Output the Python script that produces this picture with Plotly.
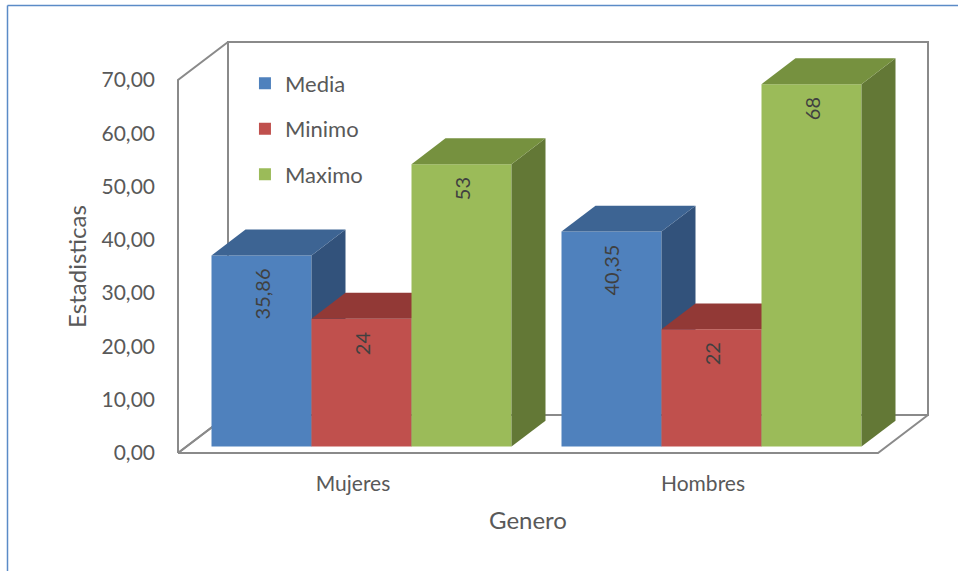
import plotly.graph_objects as go

# ---------------- data ----------------
categories = ["Mujeres", "Hombres"]
series_names = ["Media", "Minimo", "Maximo"]
media = [35.86, 40.35]
minimo = [24, 22]
maximo = [53, 68]
y_tick_values = [0, 10, 20, 30, 40, 50, 60, 70]
x_title = "Genero"
y_title = "Estadisticas"

series_values = [media, minimo, maximo]

# ---------------- style ----------------
front_colors = ["#4F81BD", "#C0504D", "#9BBB59"]
top_colors = ["#3D6493", "#923936", "#76913F"]
side_colors = ["#32527B", "#7B302E", "#637836"]
wall_color = "#8A8A8A"
text_color = "#595959"
label_color = "#404040"
FONT = "Lato"

W, H = 958, 571
PLOT_L, PLOT_R = 178, 878      # front edge of the floor (px)
PLOT_B, PLOT_T = 453, 80       # value 0 / value max on the front plane (px)
DEPTH_PX = (50, -38)           # full depth of the 3D box in px
YMAX = y_tick_values[-1]
ncat = len(categories)
px_per_cat = (PLOT_R - PLOT_L) / ncat
px_per_val = (PLOT_B - PLOT_T) / YMAX
DX = DEPTH_PX[0] / px_per_cat          # depth offset in x data units
DV = -DEPTH_PX[1] / px_per_val         # depth offset in y data units
Z0, Z1 = 0.17, 0.85                    # bar depth span (fraction of box depth)
GAP = 1 / 7
BAR_W = (1 - GAP) / len(series_names)
XMIN, XMAX = -0.5, ncat - 0.5


def x_at(px):
    return (px - PLOT_L) / px_per_cat + XMIN


def v_at(py):
    return (PLOT_B - py) / px_per_val


def P(x, v, z):
    return x + z * DX, v + z * DV


def poly(points):
    xs = [p[0] for p in points] + [points[0][0]]
    ys = [p[1] for p in points] + [points[0][1]]
    return xs, ys


fig = go.Figure()

# ---------------- walls & floor (base subplot) ----------------
walls = [
    [P(XMIN, 0, 0), P(XMIN, YMAX, 0), P(XMIN, YMAX, 1), P(XMIN, 0, 1)],
    [P(XMIN, 0, 1), P(XMIN, YMAX, 1), P(XMAX, YMAX, 1), P(XMAX, 0, 1)],
    [P(XMIN, 0, 0), P(XMAX, 0, 0), P(XMAX, 0, 1), P(XMIN, 0, 1)],
]
for wpts in walls:
    xs, ys = poly(wpts)
    fig.add_trace(go.Scatter(x=xs, y=ys, mode="lines",
                             line=dict(color=wall_color, width=2),
                             showlegend=False, hoverinfo="skip",
                             xaxis="x", yaxis="y"))

# ---------------- bars (one overlay subplot per series) ----------------
annotations = []
for k, (name, vals) in enumerate(zip(series_names, series_values)):
    xa = "x%d" % (k + 2)
    ya = "y%d" % (k + 2)
    offset = -1.5 * BAR_W + k * BAR_W
    fig.add_trace(go.Bar(
        x=[i + Z0 * DX for i in range(ncat)], y=vals,
        base=Z0 * DV, width=BAR_W, offset=offset,
        name=name, legendgroup=name,
        marker=dict(color=front_colors[k], line=dict(width=0)),
        xaxis=xa, yaxis=ya, hoverinfo="skip"))
    for i, v in enumerate(vals):
        xl = i + offset
        xr = xl + BAR_W
        top = [P(xl, v, Z0), P(xr, v, Z0), P(xr, v, Z1), P(xl, v, Z1)]
        side = [P(xr, 0, Z0), P(xr, v, Z0), P(xr, v, Z1), P(xr, 0, Z1)]
        for pts, col in ((side, side_colors[k]), (top, top_colors[k])):
            xs, ys = poly(pts)
            fig.add_trace(go.Scatter(x=xs, y=ys, mode="lines", fill="toself",
                                     fillcolor=col, line=dict(width=0, color=col),
                                     showlegend=False, hoverinfo="skip",
                                     xaxis=xa, yaxis=ya))
        cx, cy = P((xl + xr) / 2, v, Z0)
        annotations.append(dict(
            x=cx, y=cy, xref="x", yref="y", showarrow=False,
            text=f"{v:g}".replace(".", ","), textangle=-90,
            xanchor="center", yanchor="top", yshift=-11,
            font=dict(family=FONT, size=20, color=label_color)))

# invisible trace so the labelled axes are drawn
fig.add_trace(go.Scatter(x=[0], y=[0], mode="markers", marker=dict(opacity=0),
                         showlegend=False, hoverinfo="skip",
                         xaxis="x5", yaxis="y5"))

hidden = dict(visible=False, showgrid=False, zeroline=False, fixedrange=True,
              automargin=False)
xr_full = [x_at(0), x_at(W)]
yr_full = [v_at(H), v_at(0)]

layout = dict(
    width=W, height=H, autosize=False,
    margin=dict(l=0, r=0, t=0, b=0, pad=0, autoexpand=False),
    paper_bgcolor="white", plot_bgcolor="rgba(0,0,0,0)",
    separators=",.",
    barmode="overlay",
    showlegend=True,
    legend=dict(x=0.2557, y=0.8908, xanchor="left", yanchor="top",
                bgcolor="rgba(0,0,0,0)", tracegroupgap=14,
                font=dict(family=FONT, size=22, color=text_color)),
    xaxis=dict(domain=[0, 1], range=xr_full, **hidden),
    yaxis=dict(domain=[0, 1], range=yr_full, **hidden),
    xaxis5=dict(domain=[PLOT_L / W, PLOT_R / W], range=[XMIN, XMAX],
                anchor="y5", showgrid=False, zeroline=False, showline=False,
                automargin=False,
                tickvals=list(range(ncat)), ticktext=categories,
                ticks="", ticklabelstandoff=16,
                tickfont=dict(family=FONT, size=21, color=text_color),
                title=dict(text=x_title, standoff=18,
                           font=dict(family=FONT, size=24, color=text_color))),
    yaxis5=dict(domain=[(H - PLOT_B) / H, (H - PLOT_T) / H], range=[0, YMAX],
                anchor="x5", showgrid=False, zeroline=False, showline=False,
                automargin=False,
                tickvals=y_tick_values, tickformat=".2f",
                ticks="", ticklabelstandoff=22,
                tickfont=dict(family=FONT, size=21, color=text_color),
                title=dict(text=y_title, standoff=8,
                           font=dict(family=FONT, size=24, color=text_color))),
    annotations=annotations,
    shapes=[
        dict(type="line", xref="paper", yref="paper",
             x0=7.5 / W, x1=1, y0=1 - 5.5 / H, y1=1 - 5.5 / H,
             line=dict(color="#5B8BC7", width=1.5)),
        dict(type="line", xref="paper", yref="paper",
             x0=7.5 / W, x1=7.5 / W, y0=0, y1=1 - 5.5 / H,
             line=dict(color="#5B8BC7", width=1.5)),
    ],
)
for k in range(len(series_names)):
    layout["xaxis%d" % (k + 2)] = dict(overlaying="x", range=xr_full, **hidden)
    layout["yaxis%d" % (k + 2)] = dict(overlaying="y", range=yr_full, **hidden)

fig.update_layout(**layout)
fig.write_html("out.html")
